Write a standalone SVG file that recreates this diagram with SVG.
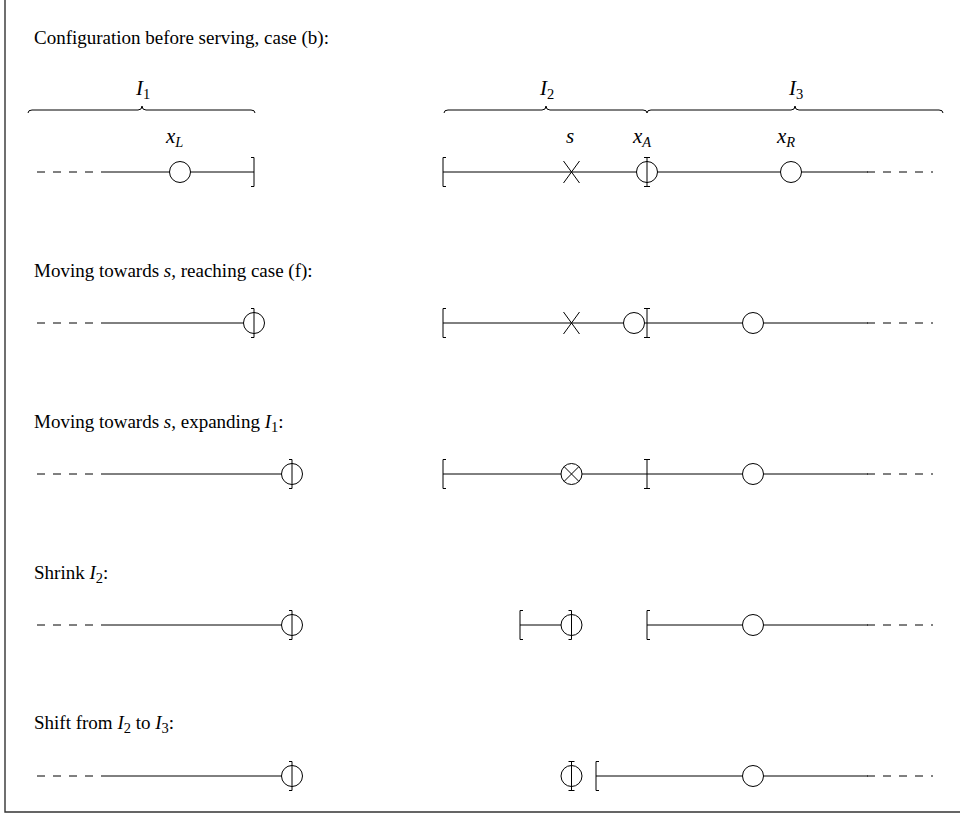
<svg xmlns="http://www.w3.org/2000/svg" xmlns:xlink="http://www.w3.org/1999/xlink" width="960" height="817" viewBox="0 0 960 817">
<style>
  .t { font-family: "Liberation Serif", "DejaVu Serif", serif; font-size: 19px; fill: #000; }
  .m { font-family: "Liberation Serif", "DejaVu Serif", serif; font-size: 21px; font-style: italic; fill: #000; }
  .sub { font-size: 14.5px; }
  .ln { stroke: #000; stroke-width: 1; fill: none; }
  .dash { stroke: #000; stroke-width: 1; fill: none; stroke-dasharray: 8 8; }
  .brace { stroke: #000; stroke-width: 1; fill: none; }
  .frame { stroke: #333; stroke-width: 1.4; fill: none; }
</style>
<defs>
  <path id="lb" d="M3,-14.5 H0 V14.5 H3" class="ln"/>
  <path id="rb" d="M-3,-14.5 H0 V14.5 H-3" class="ln"/>
  <path id="ib" d="M-3,-14.5 H3 M0,-14.5 V14.5 M-3,14.5 H3" class="ln"/>
  <circle id="circ" r="10.5" fill="#fff" stroke="#000" stroke-width="1"/>
  <path id="xm" d="M-8,-11 L8,11 M-8,11 L8,-11" class="ln"/>
  <g id="otimes"><circle r="10.5" fill="#fff" stroke="#000" stroke-width="1"/><path d="M-7.4,-7.4 L7.4,7.4 M-7.4,7.4 L7.4,-7.4" class="ln"/></g>
</defs>

<path class="frame" d="M5,0 V812 H960"/>

<!-- headings -->
<g id="headings">
  <text class="t" x="34" y="44">Configuration before serving, case (b):</text>
  <text class="t" x="34" y="277">Moving towards <tspan font-style="italic">s</tspan>, reaching case (f):</text>
  <text class="t" x="34" y="428">Moving towards <tspan font-style="italic">s</tspan>, expanding <tspan font-style="italic">I</tspan><tspan class="sub" dy="4">1</tspan><tspan dy="-4">:</tspan></text>
  <text class="t" x="34" y="579">Shrink <tspan font-style="italic">I</tspan><tspan class="sub" dy="4">2</tspan><tspan dy="-4">:</tspan></text>
  <text class="t" x="34" y="729">Shift from <tspan font-style="italic">I</tspan><tspan class="sub" dy="4">2</tspan><tspan dy="-4"> to </tspan><tspan font-style="italic">I</tspan><tspan class="sub" dy="4">3</tspan><tspan dy="-4">:</tspan></text>
</g>

<!-- braces with labels -->
<g id="braces">
  <path class="brace" d="M28,113 Q28,110 32,110 H138 Q142,110 142,106 Q142,110 146,110 H251 Q255,110 255,113"/>
  <path class="brace" d="M444,113 Q444,110 448,110 H542 Q546,110 546,106 Q546,110 550,110 H643 Q647,110 647,113"/>
  <path class="brace" d="M647,113 Q647,110 651,110 H791 Q795,110 795,106 Q795,110 799,110 H939 Q943,110 943,113"/>
  <text class="m" x="136" y="95">I<tspan class="sub" font-style="normal" dy="4">1</tspan></text>
  <text class="m" x="540" y="95">I<tspan class="sub" font-style="normal" dy="4">2</tspan></text>
  <text class="m" x="789" y="95">I<tspan class="sub" font-style="normal" dy="4">3</tspan></text>
</g>

<!-- point labels -->
<g id="labels">
  <text class="m" x="166" y="143">x<tspan class="sub" dy="4">L</tspan></text>
  <text class="m" x="566" y="143">s</text>
  <text class="m" x="633" y="143">x<tspan class="sub" dy="4">A</tspan></text>
  <text class="m" x="777" y="143">x<tspan class="sub" dy="4">R</tspan></text>
</g>

<!-- Row 1 -->
<g id="row1">
  <path class="dash" d="M37,172 H101"/>
  <path class="ln" d="M101,172 H254"/>
  <use href="#circ" x="180" y="172"/>
  <use href="#rb" x="254" y="172"/>
  <path class="ln" d="M443,172 H868"/>
  <path class="dash" d="M867,172 H933"/>
  <use href="#lb" x="443" y="172"/>
  <use href="#xm" x="571.5" y="172"/>
  <use href="#circ" x="647" y="172"/>
  <use href="#ib" x="647" y="172"/>
  <use href="#circ" x="791" y="172"/>
</g>

<!-- Row 2 -->
<g id="row2">
  <path class="dash" d="M37,323 H101"/>
  <path class="ln" d="M101,323 H254"/>
  <use href="#circ" x="254" y="323"/>
  <use href="#rb" x="254" y="323"/>
  <path class="ln" d="M443,323 H868"/>
  <path class="dash" d="M867,323 H933"/>
  <use href="#lb" x="443" y="323"/>
  <use href="#xm" x="571.5" y="323"/>
  <use href="#circ" x="634" y="323"/>
  <use href="#ib" x="647" y="323"/>
  <use href="#circ" x="753" y="323"/>
</g>

<!-- Row 3 -->
<g id="row3">
  <path class="dash" d="M37,474 H101"/>
  <path class="ln" d="M101,474 H292"/>
  <use href="#circ" x="292" y="474"/>
  <use href="#rb" x="292" y="474"/>
  <path class="ln" d="M443,474 H868"/>
  <path class="dash" d="M867,474 H933"/>
  <use href="#lb" x="443" y="474"/>
  <use href="#otimes" x="571.5" y="474"/>
  <use href="#ib" x="647" y="474"/>
  <use href="#circ" x="753" y="474"/>
</g>

<!-- Row 4 -->
<g id="row4">
  <path class="dash" d="M37,625 H101"/>
  <path class="ln" d="M101,625 H292"/>
  <use href="#circ" x="292" y="625"/>
  <use href="#rb" x="292" y="625"/>
  <path class="ln" d="M520,625 H571.5"/>
  <use href="#lb" x="520" y="625"/>
  <use href="#circ" x="571.5" y="625"/>
  <use href="#rb" x="571.5" y="625"/>
  <path class="ln" d="M647,625 H868"/>
  <path class="dash" d="M867,625 H933"/>
  <use href="#lb" x="647" y="625"/>
  <use href="#circ" x="753" y="625"/>
</g>

<!-- Row 5 -->
<g id="row5">
  <path class="dash" d="M37,776 H101"/>
  <path class="ln" d="M101,776 H292"/>
  <use href="#circ" x="292" y="776"/>
  <use href="#rb" x="292" y="776"/>
  <use href="#circ" x="571.5" y="776"/>
  <use href="#ib" x="571.5" y="776"/>
  <path class="ln" d="M596,776 H868"/>
  <path class="dash" d="M867,776 H933"/>
  <use href="#lb" x="596" y="776"/>
  <use href="#circ" x="753" y="776"/>
</g>
</svg>
